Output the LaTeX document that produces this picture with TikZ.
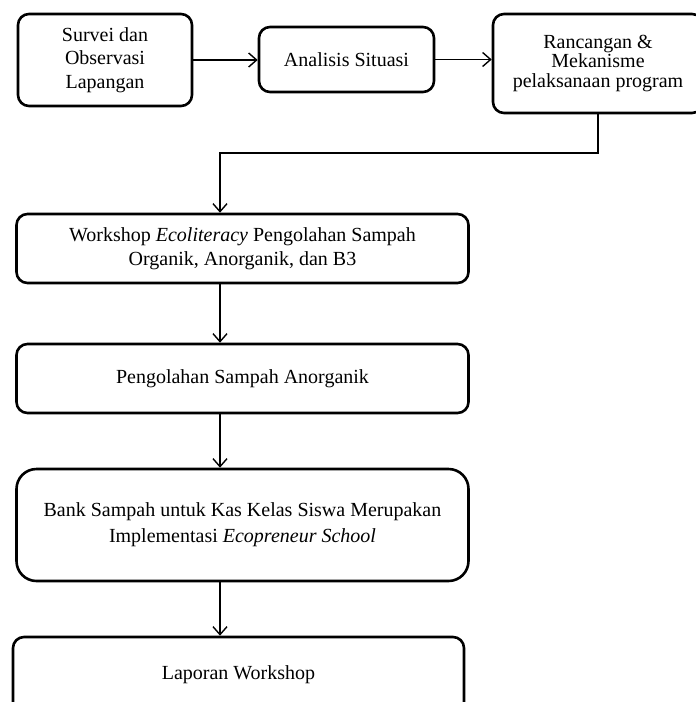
\documentclass[tikz,border=0pt]{standalone}
\usepackage{fontspec}
\setmainfont{Liberation Serif}
\usetikzlibrary{arrows.meta,calc}
\begin{document}
\begin{tikzpicture}[x=1pt,y=-1pt,
  box/.style={draw, line width=2.6pt, rounded corners=11pt, align=center,
    font=\fontsize{20}{23.5}\selectfont, inner sep=0pt},
  conn/.style={line width=1.4pt, -{Straight Barb[length=8pt,width=14pt]}}]
\useasboundingbox (0,0) rectangle (696,702);
\node[box, minimum width=174pt, minimum height=92pt] (b1) at (105,60) {\raisebox{-3pt}{\parbox{170pt}{\centering Survei dan\\Observasi\\Lapangan}}};
\node[box, minimum width=175pt, minimum height=65pt] (b2) at (346.5,59.5) {Analisis Situasi};
\node[box, minimum width=210pt, minimum height=99pt] (b3) at (598,63.5) {\raisebox{-4pt}{\parbox{205pt}{\centering\fontsize{20}{19.5}\selectfont Rancangan \&\\Mekanisme\\pelaksanaan program}}};
\node[box, minimum width=452pt, minimum height=69pt, font=\fontsize{20}{24}\selectfont] (b4) at (242.5,248.5) {Workshop \textit{Ecoliteracy} Pengolahan Sampah\\Organik, Anorganik, dan B3};
\node[box, minimum width=452pt, minimum height=69pt] (b5) at (242.5,378.5) {Pengolahan Sampah Anorganik};
\node[box, minimum width=452pt, minimum height=112pt, rounded corners=20pt] (b6) at (242.5,525) {\raisebox{-3pt}{\parbox{440pt}{\centering\fontsize{20}{26}\selectfont Bank Sampah untuk Kas Kelas Siswa Merupakan\\Implementasi \textit{Ecopreneur School}}}};
\node[box, minimum width=451pt, minimum height=76pt] (b7) at (238.5,675) {\raisebox{3pt}{Laporan Workshop}};
\coordinate (ax) at (220,0);
\coordinate (bendy) at (0,153);
\draw[conn] (b1.east) -- (b1.east -| b2.west);
\draw[conn] (b2.east) -- (b2.east -| b3.west);
\draw[conn] (b3.south) -- (b3.south |- bendy) -| (b4.north -| ax);
\draw[conn] (b4.south -| ax) -- (b5.north -| ax);
\draw[conn] (b5.south -| ax) -- (b6.north -| ax);
\draw[conn] (b6.south -| ax) -- (b7.north -| ax);
\end{tikzpicture}
\end{document}
